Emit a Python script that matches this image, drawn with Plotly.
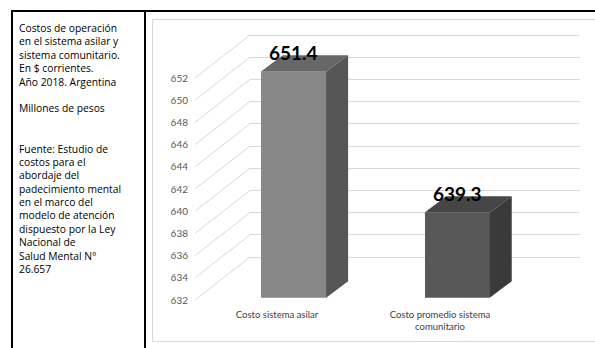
import plotly.graph_objects as go

# ---------------- data ----------------
categories = ["Costo sistema asilar", "Costo promedio sistema comunitario"]
values = [651.4, 639.3]
tick_values = list(range(632, 654, 2))
axis_base = 632
front_colors = ["#878787", "#585858"]
top_colors = ["#676767", "#464646"]
side_colors = ["#565656", "#3a3a3a"]
side_text = ("Costos de operación<br>en el sistema asilar y<br>sistema comunitario.<br>"
             "En $ corrientes.<br>Año 2018. Argentina<br><br>Millones de pesos<br><br><br>"
             "Fuente: Estudio de<br>costos para el<br>abordaje del<br>padecimiento mental<br>"
             "en el marco del<br>modelo de atención<br>dispuesto por la Ley<br>Nacional de<br>"
             "Salud Mental N°<br>26.657")

W, H = 595, 348
def fx(p):
    return p / W
def fy(p):
    return 1 - p / H

# geometry (pixels)
label_scale = 11.1        # px per unit on the front label axis
label_base_px = 300       # pixel of 632 label
wall_shift_px = 43        # back wall is shifted up
bar_scale = 11.65
bar_base_px = 297.7
depth_dx_px, depth_dy_px = 22, 16.5
cat_px = 163.6

fig = go.Figure()

# subplot 1: back wall gridlines
wall_base_px = label_base_px - wall_shift_px
fig.add_trace(go.Scatter(x=[0.5], y=[640], mode="markers", marker=dict(opacity=0),
                         hoverinfo="skip", showlegend=False, xaxis="x", yaxis="y"))
# subplot 2: tick labels + category labels
fig.add_trace(go.Scatter(x=categories, y=[640, 640], mode="markers", marker=dict(opacity=0),
                         hoverinfo="skip", showlegend=False, xaxis="x2", yaxis="y2"))
# subplot 3: bars
idx = list(range(len(categories)))
fig.add_trace(go.Bar(x=idx, y=values, width=0.4, marker=dict(color=front_colors, line=dict(width=0)),
                     hovertext=categories, showlegend=False, xaxis="x3", yaxis="y3"))

hw = 0.2
dx = depth_dx_px / cat_px
dy = depth_dy_px / bar_scale
shapes = []
for i, v in enumerate(values):
    top = (f"M {i-hw} {v} L {i+hw} {v} L {i+hw+dx} {v+dy} L {i-hw+dx} {v+dy} Z")
    side = (f"M {i+hw} {axis_base} L {i+hw} {v} L {i+hw+dx} {v+dy} L {i+hw+dx} {axis_base+dy} Z")
    shapes.append(dict(type="path", path=top, xref="x3", yref="y3", fillcolor=top_colors[i],
                       line=dict(width=0), layer="above"))
    shapes.append(dict(type="path", path=side, xref="x3", yref="y3", fillcolor=side_colors[i],
                       line=dict(width=0), layer="above"))

# side-wall diagonals
for v in tick_values:
    shapes.append(dict(type="line", xref="paper", yref="y2", x0=fx(195), x1=fx(250),
                       y0=v, y1=v + wall_shift_px / label_scale,
                       line=dict(color="#d9d9d9", width=1), layer="below"))

# frames
shapes.append(dict(type="rect", xref="paper", yref="paper", x0=fx(152.5), x1=fx(605),
                   y0=fy(341.5), y1=fy(19.5), line=dict(color="#d9d9d9", width=1), layer="below"))
for (x0, y0, x1, y1) in [(11, 11, 595, 11), (12, 11, 12, 348), (145, 11, 145, 348)]:
    shapes.append(dict(type="line", xref="paper", yref="paper", x0=fx(x0), y0=fy(y0),
                       x1=fx(x1), y1=fy(y1), line=dict(color="#000000", width=2), layer="above"))

annotations = []
for i, v in enumerate(values):
    annotations.append(dict(x=i, y=v + dy, xref="x3", yref="y3", text=f"{v:.1f}",
                            showarrow=False, yanchor="middle", xanchor="center", yshift=3,
                            font=dict(family="Lato", size=19, color="#000000", weight="bold")))
annotations.append(dict(x=fx(17), y=fy(19), xref="paper", yref="paper", text=side_text,
                        showarrow=False, xanchor="left", yanchor="top", align="left",
                        font=dict(family="Open Sans", size=10.3, color="#000000")))

fig.update_layout(
    width=W, height=H, margin=dict(l=0, r=0, t=0, b=0),
    paper_bgcolor="white", plot_bgcolor="rgba(0,0,0,0)",
    showlegend=False, bargap=0,
    xaxis=dict(domain=[fx(250), fx(580)], range=[0, 1], visible=False, anchor="y"),
    yaxis=dict(domain=[0, 1], anchor="x",
               range=[axis_base - (H - wall_base_px) / label_scale, axis_base + wall_base_px / label_scale],
               tickvals=tick_values, showticklabels=False, showgrid=True, gridcolor="#d9d9d9",
               gridwidth=1, zeroline=False, showline=False, ticks=""),
    xaxis2=dict(domain=[fx(195.5), fx(521.5)], type="category", categoryorder="array",
                categoryarray=categories, range=[-0.5, 1.5], anchor="free", position=fy(307),
                tickvals=categories, ticktext=[c.replace("sistema comunitario", "sistema<br>comunitario") for c in categories],
                tickfont=dict(family="Lato", size=9.5, color="#404040"),
                showgrid=False, zeroline=False, showline=False, ticks=""),
    yaxis2=dict(domain=[0, 1], anchor="free", position=fx(188),
                range=[axis_base - (H - label_base_px) / label_scale, axis_base + label_base_px / label_scale],
                tickvals=tick_values, tickfont=dict(family="Lato", size=10, color="#595959"),
                showgrid=False, zeroline=False, showline=False, ticks=""),
    xaxis3=dict(domain=[fx(293.4 - cat_px / 2), fx(293.4 + cat_px * 1.5)], range=[-0.5, 1.5],
                visible=False, anchor="y3"),
    yaxis3=dict(domain=[fy(bar_base_px), 1], range=[axis_base, axis_base + bar_base_px / bar_scale],
                visible=False, anchor="x3"),
    shapes=shapes, annotations=annotations,
)

fig.write_html("out.html")
